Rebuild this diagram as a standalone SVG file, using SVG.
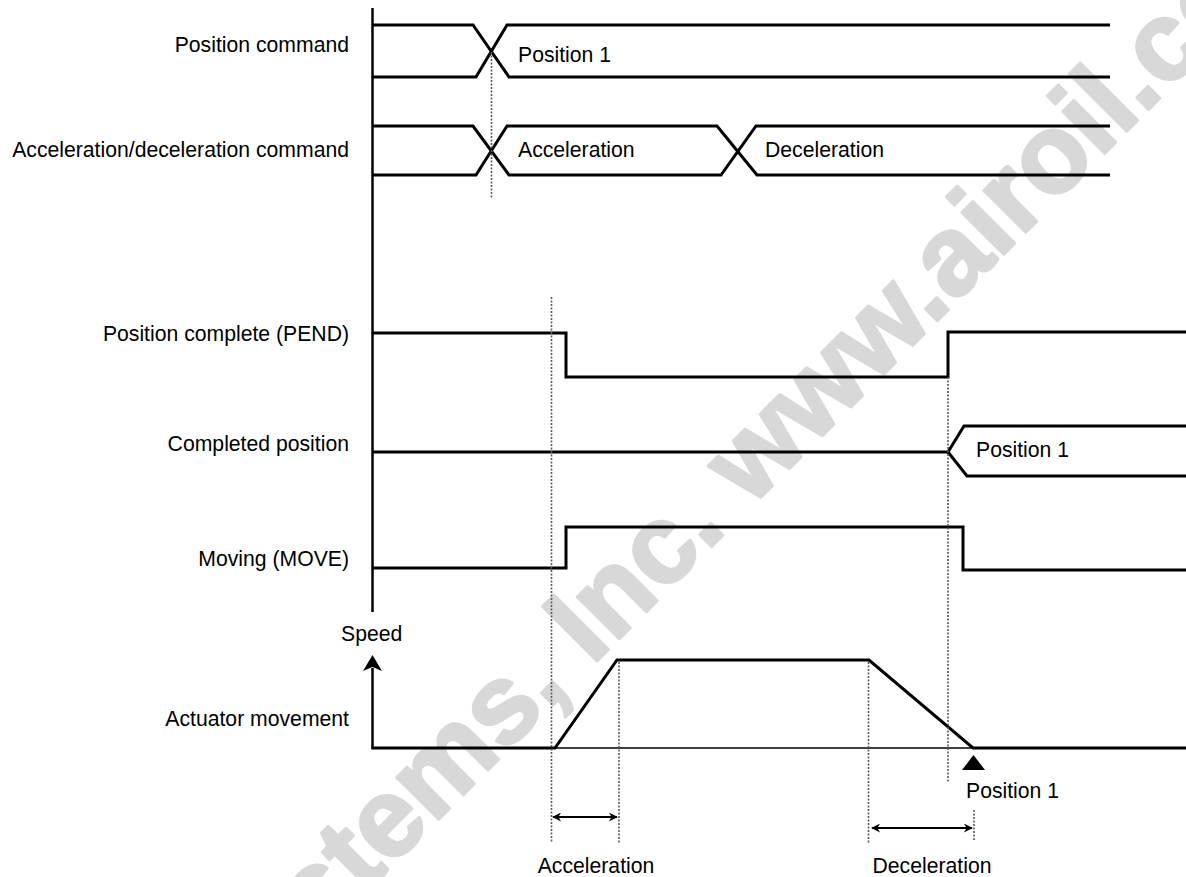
<svg xmlns="http://www.w3.org/2000/svg" width="1186" height="877" viewBox="0 0 1186 877">
<defs>
<style>
text{font-family:"Liberation Sans",Arial,sans-serif;font-size:21.2px;fill:#000}
.lbl{text-anchor:end}
.mid{text-anchor:middle}
.sig{fill:none;stroke:#000;stroke-width:3;stroke-linejoin:miter}
.thin{fill:none;stroke:#000;stroke-width:1.5}
.dot{fill:none;stroke:#5a5a5a;stroke-width:1.6;stroke-dasharray:2 1.5}
.dim{fill:none;stroke:#000;stroke-width:2;marker-start:url(#ah);marker-end:url(#ah)}
.wm{font-family:"Liberation Sans",Arial,sans-serif;font-weight:bold;font-size:112px;fill:#d8d8d8;stroke:#d8d8d8;stroke-width:3;stroke-linejoin:round}
</style>
<marker id="ah" viewBox="0 0 10 10" refX="9" refY="5" markerWidth="11" markerHeight="9" markerUnits="userSpaceOnUse" orient="auto-start-reverse">
<path d="M0,0 L10,5 L0,10 L3,5 Z" fill="#000"/>
</marker>
</defs>
<rect width="1186" height="877" fill="#ffffff"/>
<g id="watermark">
<text class="wm" transform="translate(222,1036) rotate(-45)">Systems, Inc. www.airoil.com</text>
</g>
<g id="axis">
<line x1="372.5" y1="8" x2="372.5" y2="612" stroke="#000" stroke-width="2.5"/>
</g>
<g id="position-command">
<text class="lbl" x="349" y="52">Position command</text>
<path class="sig" d="M372,25 H473 L509,77 H1110"/>
<path class="sig" d="M372,77 H476 L507,25 H1110"/>
<text x="518" y="62">Position 1</text>
</g>
<g id="accel-command">
<text class="lbl" x="349" y="157">Acceleration/deceleration command</text>
<path class="sig" d="M372,126 H473 L509,175 H721 L756,126 H1110"/>
<path class="sig" d="M372,175 H476 L507,126 H717 L757,175 H1110"/>
<text x="518" y="157">Acceleration</text>
<text x="765" y="157">Deceleration</text>
</g>
<g id="pend">
<text class="lbl" x="349" y="341">Position complete (PEND)</text>
<path class="sig" d="M372,333 H566 V377 H948 V332 H1186"/>
</g>
<g id="completed-position">
<text class="lbl" x="349" y="451">Completed position</text>
<path class="sig" d="M372,452 H948 L964,426 H1186"/>
<path class="sig" d="M948,452 L967,476 H1186"/>
<text x="976" y="457">Position 1</text>
</g>
<g id="move">
<text class="lbl" x="349" y="566">Moving (MOVE)</text>
<path class="sig" d="M372,568 H566 V527 H963 V570 H1186"/>
</g>
<g id="actuator">
<text x="341" y="641">Speed</text>
<text class="lbl" x="349" y="726">Actuator movement</text>
<line x1="372.5" y1="749" x2="372.5" y2="668" stroke="#000" stroke-width="2.5"/>
<path d="M372.5,655 L382,671 L372.5,667 L363,671 Z" fill="#000"/>
<line class="thin" x1="555" y1="748" x2="973" y2="748"/>
<path class="sig" d="M371.5,748 H555 L617,660 H869 L973,748 H1186"/>
<path d="M973.5,755 L985,770 L962,770 Z" fill="#000"/>
<text x="966" y="798">Position 1</text>
<text class="mid" x="596" y="873">Acceleration</text>
<text class="mid" x="932" y="873">Deceleration</text>
</g>
<g id="connectors">
<line class="dot" x1="491.5" y1="52" x2="491.5" y2="198"/>
<line class="dot" x1="551.5" y1="297" x2="551.5" y2="843"/>
<line class="dot" x1="619" y1="662" x2="619" y2="843"/>
<line class="dot" x1="868.5" y1="662" x2="868.5" y2="843"/>
<line class="dot" x1="948" y1="377" x2="948" y2="782"/>
<line class="dot" x1="974" y1="810" x2="974" y2="841"/>
<line class="dim" x1="553" y1="817" x2="617" y2="817"/>
<line class="dim" x1="872" y1="828" x2="972" y2="828"/>
</g>
</svg>
